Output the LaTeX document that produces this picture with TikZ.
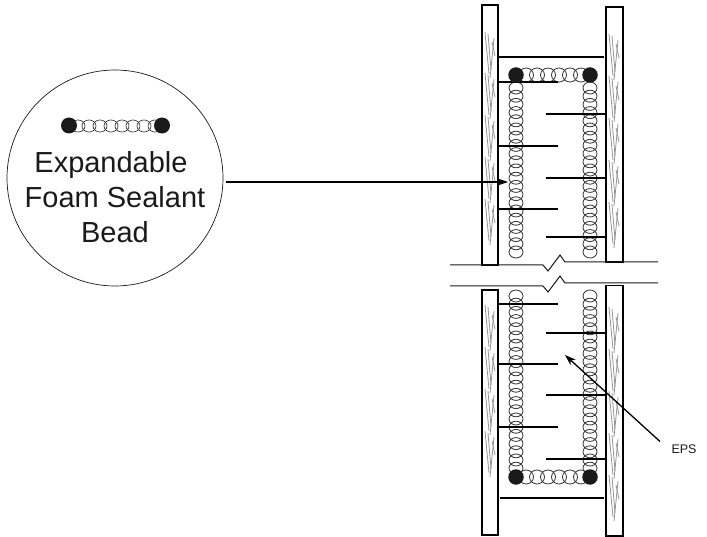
\documentclass[tikz,border=0pt]{standalone}
\usepackage{fontspec}
\setmainfont{Liberation Sans}
\usetikzlibrary{arrows.meta}
\definecolor{ink}{HTML}{1A1A1A}
\definecolor{coilc}{HTML}{3A3A3A}
\tikzset{
  wall/.style={draw=black,line width=1.5pt,fill=white},
  rule/.style={draw=black,line width=1.3pt},
  breakline/.style={draw=ink,line width=1pt},
  coil/.style={draw=coilc,line width=0.85pt},
  dot/.style={circle,fill=ink,draw=none,minimum size=15.5pt,inner sep=0pt},
  grain/.style={draw=black!42,line width=0.8pt},
  leader/.style={draw=black,line width=1.3pt,-{Stealth[length=11pt,width=7.5pt]}},
  bigtext/.style={font=\fontsize{29}{35}\selectfont,text=ink,align=center},
}
\newcommand{\vcoil}[3]{% x, y start, y end
  \pgfmathsetmacro{\ystep}{#2+8.2}%
  \foreach \yy in {#2,\ystep,...,#3}{\draw[coil] (#1,\yy) ellipse (7pt and 6pt);}}
\newcommand{\hcoil}[3]{% y, x start, x end
  \pgfmathsetmacro{\xstep}{#2+11}%
  \foreach \xx in {#2,\xstep,...,#3}{\draw[coil] (\xx,#1) ellipse (7.5pt and 7pt);}}
\newcommand{\bcoil}[3]{%
  \pgfmathsetmacro{\xstep}{#2+11}%
  \foreach \xx in {#2,\xstep,...,#3}{\draw[coil,line width=0.7pt] (\xx,#1) ellipse (7pt and 6pt);}}
\newcommand{\grainA}[2]{% x, y
  \draw[grain] (#1-5,#2) -- (#1-1,#2+42);
  \draw[grain] (#1-2,#2+2) -- (#1+1,#2+38);
  \draw[grain] (#1+4,#2+6) -- (#1,#2+46);
  \draw[grain] (#1+5,#2+24) -- (#1+2,#2+10);}
\begin{document}
\begin{tikzpicture}[x=1pt,y=-1pt]
\useasboundingbox (0,0) rectangle (707,537);
% walls
\draw[wall] (482,5) rectangle (498,265);
\draw[wall] (606,7) rectangle (623,262);
\draw[wall] (482,290) rectangle (498,535);
\draw[wall] (606,285) rectangle (623,536);
% grain
\foreach \gy in {32,73,115,157,199}{\grainA{490}{\gy}}
\foreach \gy in {34,76,118,160,202}{\grainA{614}{\gy}}
\foreach \gy in {305,347,389,431}{\grainA{490}{\gy}}
\foreach \gy in {307,349,391,433,475}{\grainA{614}{\gy}}
% coils
\vcoil{516}{88}{258}
\vcoil{590}{88}{258}
\vcoil{516}{296}{470}
\vcoil{590}{296}{470}
\hcoil{75}{526}{582}
\hcoil{477}{526}{582}
% horizontal rules
\foreach \ry in {82,146,209,304,364,427}{\draw[rule] (498,\ry) -- (558,\ry);}
\foreach \ry in {114,178,237,333,395,459}{\draw[rule] (546,\ry) -- (606,\ry);}
\draw[rule] (498,57) -- (604,57);
\draw[rule] (500,498) -- (604,498);
\node[dot] (dtl) at (516,75) {};
\node[dot] (dtr) at (590,75) {};
\node[dot] (dbl) at (516,477) {};
\node[dot] (dbr) at (590,477) {};
% break lines
\fill[white] (450,266) rectangle (658,285);
\draw[breakline] (450,265) -- (543,265) -- (548,271) -- (560,255) -- (565,262) -- (658,262);
\draw[breakline] (450,286) -- (543,286) -- (548,292) -- (560,276) -- (565,283) -- (658,283);
% callout
\node[circle,draw=ink,line width=0.7pt,minimum size=216pt,inner sep=0pt] (bubble) at (115,178) {};
\bcoil{126}{78}{155}
\node[dot,minimum size=16pt] (bl) at (69,125.5) {};
\node[dot,minimum size=16pt] (br) at (162,125.5) {};
\node[bigtext,anchor=base] (t1) at (111,173) {Expandable};
\node[bigtext,anchor=base] (t2) at (115,208) {Foam Sealant};
\node[bigtext,anchor=base] (t3) at (115,243) {Bead};
\coordinate (target) at (508,182);
\coordinate (bstart) at (226,182);
\draw[leader] (bstart) -- (target);
% EPS
\node[font=\fontsize{12.5}{15}\selectfont,text=ink,inner sep=0pt] (eps) at (684,449) {EPS};
\coordinate (epstail) at (660,441.5);
\coordinate (epshead) at (565,355);
\draw[leader] (epstail) -- (epshead);
\end{tikzpicture}
\end{document}
